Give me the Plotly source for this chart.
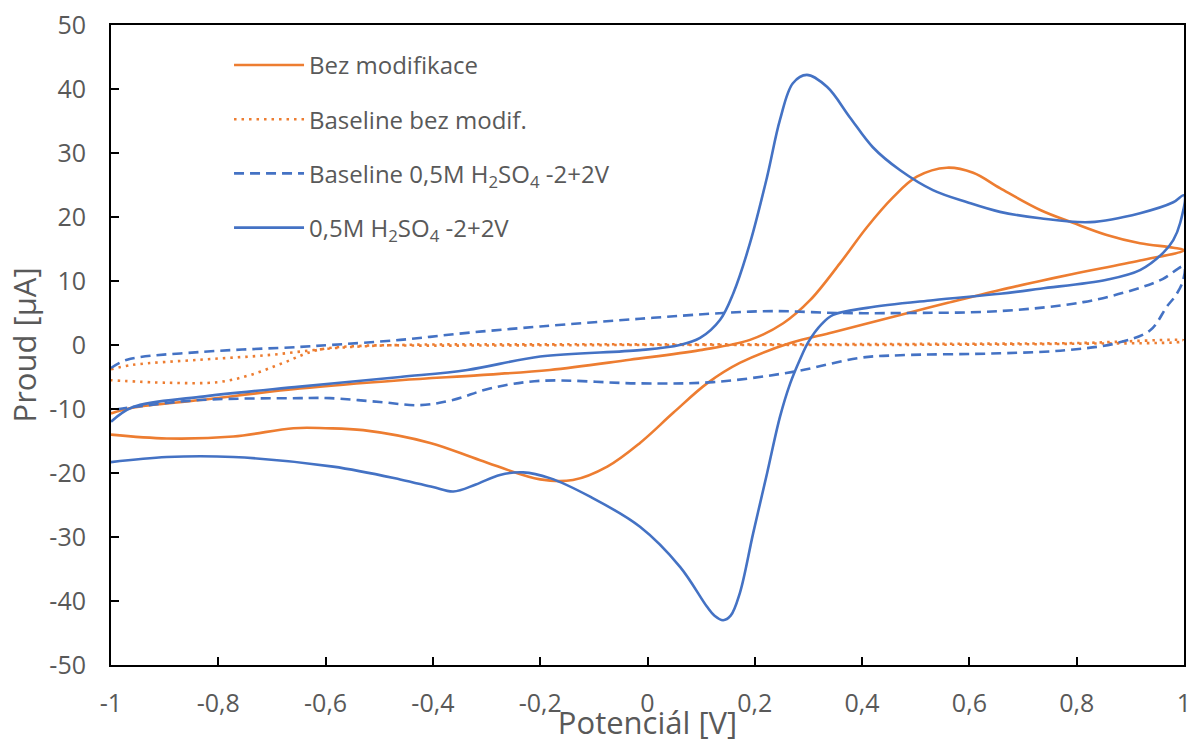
import plotly.graph_objects as go

# ---- data ----
bez_x = [-1.0, -0.96, -0.834, -0.648, -0.461, -0.312, -0.182, -0.033, 0.098, 0.191, 0.253, 0.303,
         0.359, 0.409, 0.458, 0.502, 0.558, 0.607, 0.657, 0.732, 0.793, 0.856, 0.918, 0.98, 1.0,
         0.918, 0.793, 0.732, 0.657, 0.56, 0.471, 0.346, 0.266, 0.172, 0.111, 0.048, -0.014, -0.075,
         -0.139, -0.2, -0.312, -0.405, -0.53, -0.6, -0.66, -0.772, -0.896, -1.0]
bez_y = [-10.7, -9.8, -8.6, -6.8, -5.5, -4.7, -3.9, -2.3, -0.8, 0.8, 3.4, 7.0,
         12.8, 18.4, 23.1, 26.3, 27.7, 26.9, 24.5, 21.1, 19.1, 17.2, 15.9, 15.2, 14.8,
         13.2, 11.1, 10.0, 8.6, 6.6, 4.7, 2.0, 0.3, -2.8, -6.0, -10.6, -15.3, -19.0,
         -21.1, -21.0, -18.0, -15.3, -13.3, -13.0, -13.0, -14.3, -14.6, -14.0]

base_bez_x = [-1.0, -0.959, -0.834, -0.71, -0.586, -0.461, -0.2, 0.2, 0.6, 0.8, 1.0,
              1.0, 0.8, 0.4, 0.0, -0.4, -0.523, -0.616, -0.679, -0.741, -0.8, -0.896, -1.0]
base_bez_y = [-3.8, -3.1, -2.3, -1.6, -0.5, 0.0, 0.1, 0.1, 0.2, 0.3, 0.7,
              0.6, 0.2, 0.0, 0.0, -0.1, -0.1, -0.8, -2.8, -4.7, -5.8, -5.9, -5.5]

base_h2so4_x = [-1.0, -0.97, -0.834, -0.648, -0.592, -0.461, -0.336, -0.2, -0.014, 0.141, 0.234, 0.359,
                0.471, 0.657, 0.812, 0.905, 0.96, 1.0,
                0.998, 0.985, 0.968, 0.937, 0.875, 0.782, 0.657, 0.471, 0.396, 0.271, 0.122, -0.014,
                -0.2, -0.294, -0.363, -0.424, -0.499, -0.592, -0.648, -0.834, -0.959, -1.0]
base_h2so4_y = [-3.6, -2.3, -1.1, -0.3, 0.0, 0.8, 1.9, 2.9, 4.1, 5.0, 5.3, 5.0,
                5.0, 5.3, 6.7, 8.6, 10.3, 12.3,
                10.0, 7.8, 6.0, 2.3, 0.3, -0.8, -1.3, -1.6, -2.0, -4.2, -5.8, -6.0,
                -5.6, -6.8, -8.6, -9.4, -8.9, -8.3, -8.3, -8.6, -9.7, -10.2]

h2so4_x = [-1.0, -0.959, -0.834, -0.648, -0.461, -0.336, -0.2, -0.014, 0.06, 0.098, 0.135, 0.16,
           0.191, 0.223, 0.247, 0.271, 0.297, 0.335, 0.377, 0.42, 0.471, 0.532, 0.596, 0.657,
           0.732, 0.825, 0.918, 0.98, 1.0,
           0.993, 0.98, 0.961, 0.918, 0.856, 0.732, 0.657, 0.532, 0.409, 0.346, 0.325, 0.3, 0.284,
           0.266, 0.247, 0.223, 0.197, 0.172, 0.155, 0.141, 0.125, 0.111, 0.061, -0.014,
           -0.107, -0.182, -0.232, -0.275, -0.32, -0.362, -0.40, -0.461, -0.586, -0.772,
           -0.896, -1.0]
h2so4_y = [-12.0, -9.7, -8.1, -6.5, -5.0, -3.9, -1.8, -0.8, 0.0, 1.1, 3.9, 8.1,
           15.9, 26.3, 35.2, 40.9, 42.2, 40.3, 35.6, 30.9, 27.3, 24.2, 22.3, 20.8,
           19.8, 19.2, 20.6, 22.3, 23.4,
           19.1, 16.4, 14.4, 11.7, 10.2, 8.8, 8.0, 7.0, 5.8, 4.7, 3.3, 0.5, -2.3,
           -6.0, -11.2, -20.0, -29.4, -38.8, -42.3, -43.0, -42.3, -40.9, -34.7, -28.4,
           -23.7, -20.8, -19.9, -20.3, -21.8, -22.9, -22.2, -21.0, -19.0, -17.5,
           -17.5, -18.3]

names = ["Bez modifikace", "Baseline bez modif.",
         "Baseline 0,5M H<sub>2</sub>SO<sub>4</sub> -2+2V", "0,5M H<sub>2</sub>SO<sub>4</sub> -2+2V"]

x_ticks = [-1, -0.8, -0.6, -0.4, -0.2, 0, 0.2, 0.4, 0.6, 0.8, 1]
x_labels = ["-1", "-0,8", "-0,6", "-0,4", "-0,2", "0", "0,2", "0,4", "0,6", "0,8", "1"]
y_ticks = [-50, -40, -30, -20, -10, 0, 10, 20, 30, 40, 50]
y_labels = ["-50", "-40", "-30", "-20", "-10", "0", "10", "20", "30", "40", "50"]

ORANGE = "#ED7D31"
BLUE = "#4472C4"
TXT = "#595959"
FONT = "Open Sans"

fig = go.Figure()
series = [
    (bez_x, bez_y, ORANGE, "solid"),
    (base_bez_x, base_bez_y, ORANGE, "2.5px,5px"),
    (base_h2so4_x, base_h2so4_y, BLUE, "10px,6px"),
    (h2so4_x, h2so4_y, BLUE, "solid"),
]
for i, (xs, ys, col, dash) in enumerate(series):
    fig.add_trace(go.Scatter(
        x=xs, y=ys, mode="lines", name=names[i], legendgroup=f"g{i}",
        line=dict(color=col, width=2.6, dash=dash, shape="spline", smoothing=1.0),
    ))

fig.update_layout(
    width=1190, height=743,
    margin=dict(l=111, r=6, t=25, b=78),
    paper_bgcolor="white", plot_bgcolor="white",
    font=dict(family=FONT, color=TXT, size=24),
    showlegend=True,
    legend=dict(x=0.11, y=0.972, xanchor="left", yanchor="top",
                bgcolor="rgba(0,0,0,0)", tracegroupgap=20,
                font=dict(family=FONT, size=24, color=TXT), itemwidth=70),
)
fig.update_xaxes(
    range=[-1, 1], tickmode="array", tickvals=x_ticks, ticktext=x_labels,
    showgrid=False, zeroline=False, automargin=False, ticklabeloverflow="allow",
    showline=True, linecolor="black", linewidth=2, mirror=True,
    ticks="inside", ticklen=8, tickwidth=1.5, tickcolor="black",
    tickfont=dict(family=FONT, size=25, color=TXT), ticklabelstandoff=15,
    title=dict(text="Potenciál [V]", font=dict(family=FONT, size=31, color=TXT), standoff=6),
)
fig.update_yaxes(
    range=[-50, 50], tickmode="array", tickvals=y_ticks, ticktext=y_labels,
    showgrid=False, zeroline=False, automargin=False, ticklabeloverflow="allow",
    showline=True, linecolor="black", linewidth=2, mirror=True,
    ticks="inside", ticklen=8, tickwidth=1.5, tickcolor="black",
    tickfont=dict(family=FONT, size=25, color=TXT), ticklabelstandoff=18,
    title=dict(text="Proud [μA]", font=dict(family=FONT, size=31, color=TXT), standoff=4),
)

fig.write_html("out.html")
